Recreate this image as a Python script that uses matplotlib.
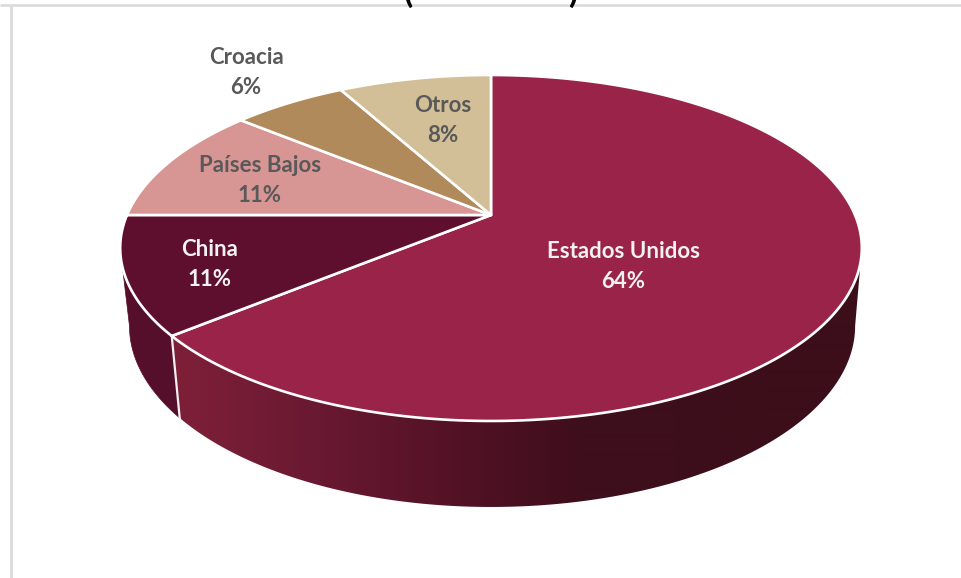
import numpy as np
import matplotlib
matplotlib.use("Agg")
import matplotlib.pyplot as plt
from matplotlib.colors import to_rgb
from matplotlib.path import Path
from matplotlib.patches import PathPatch

# Export shares by destination, clockwise from twelve o'clock
categories = ["Estados Unidos", "China", "Países Bajos", "Croacia", "Otros"]
shares = [64, 11, 11, 6, 8]
top_colors = ["#9A2349", "#5E0F2E", "#D79594", "#B08A5B", "#D2BF97"]
label_colors = ["#F2F2F2", "#F2F2F2", "#595959", "#595959", "#595959"]
label_xy = [(623.5, 267), (210, 265), (260, 180), (246, 72), (443, 121)]

W, H = 961, 578
CX, CY = 491.0, 215.0      # pie centre as seen on the top face
RX, RY, PERSP = 364.0, 166.7, 0.1907


def top_rim(theta):
    """Project the top-face circle; theta is clockwise from twelve o'clock."""
    u, v = np.sin(theta), np.cos(theta)
    w = 1 + PERSP * v
    return CX + RX * u / w, CY - RY * v / w


def bottom_rim(theta):
    """Lower circle of the pie: slightly narrower, and offset downward."""
    x, y = top_rim(theta)
    scale = np.where(x < CX, 0.975, 0.982)
    return CX + scale * (x - CX), y + 82 + (y - 336) * 0.047


def wall_path(start, end):
    """Closed outline of the side wall between two angles."""
    ts = np.linspace(start, end, 300)
    x1, y1 = top_rim(ts)
    x2, y2 = bottom_rim(ts[::-1])
    return Path(np.column_stack([np.r_[x1, x2, x1[0]], np.r_[y1, y2, y1[0]]]), closed=True)


fig = plt.figure(figsize=(W / 100, H / 100), dpi=100, facecolor="white")
ax = fig.add_axes([0, 0, 1, 1])
ax.set_xlim(0, W)
ax.set_ylim(H, 0)
ax.axis("off")

# Cut-off title parentheses above the chart frame
for px, ch in ((408, "("), (573, ")")):
    ax.text(px, -7, ch, fontsize=24, fontweight="bold", family="Lato", color="black",
            ha="center", va="center", clip_on=False)

# Chart frame: only the top and left borders show
ax.plot([0, W], [5, 5], color="#D9D9D9", lw=1.8, solid_capstyle="butt", zorder=1)
ax.plot([11, 11], [5, H], color="#DDDDDD", lw=2.2, solid_capstyle="butt", zorder=1)

edges = np.radians(np.cumsum([0] + shares) * 3.6)

# Angles where the wall's outline leaves the top rim on each side
tangent = np.arccos(-PERSP)
tangent_right, tangent_left = tangent, 2 * np.pi - tangent

# Side wall of the large slice: left-to-right shading, clipped to its outline
stops_x = [180, 300, 450, 580, 861]
stops = np.array([to_rgb(c) for c in ("#7E1F38", "#6C1A33", "#541226", "#3E0E1C", "#3B0E1A")])
grad_x = np.arange(W)
grad = np.stack([np.interp(grad_x, stops_x, stops[:, i]) for i in range(3)], axis=-1)[None, :, :]
wall = PathPatch(wall_path(tangent_right, edges[1]), transform=ax.transData,
                 facecolor="none", edgecolor="none")
ax.add_patch(wall)
img = ax.imshow(grad, extent=(0, W, H, 0), aspect="auto", interpolation="bilinear", zorder=2)
img.set_clip_path(wall)
ax.set_xlim(0, W)
ax.set_ylim(H, 0)

# Side wall of the China slice
ax.add_patch(PathPatch(wall_path(edges[1], tangent_left), facecolor="#560F2A",
                       edgecolor="#560F2A", lw=0.5, zorder=2))

# Seam between the two walls
xa, ya = top_rim(edges[1])
xb, yb = bottom_rim(edges[1])
ax.plot([xa, xb], [ya, yb], color="#F4F0F1", lw=1.6, zorder=3)

# Top face of each slice
for i, color in enumerate(top_colors):
    ts = np.linspace(edges[i], edges[i + 1], 200)
    xs, ys = top_rim(ts)
    ax.fill(np.r_[CX, xs], np.r_[CY, ys], facecolor=color, edgecolor="white", lw=1.9,
            joinstyle="round", zorder=4)

# Slice labels: name over percentage
for name, share, color, (lx, ly) in zip(categories, shares, label_colors, label_xy):
    for dy, text in ((-15, name), (15, f"{share}%")):
        ax.text(lx, ly + dy, text, color=color, fontsize=16, fontweight="bold", family="Lato",
                ha="center", va="center", zorder=5)

fig.savefig("out.png", dpi=100, facecolor="white")
